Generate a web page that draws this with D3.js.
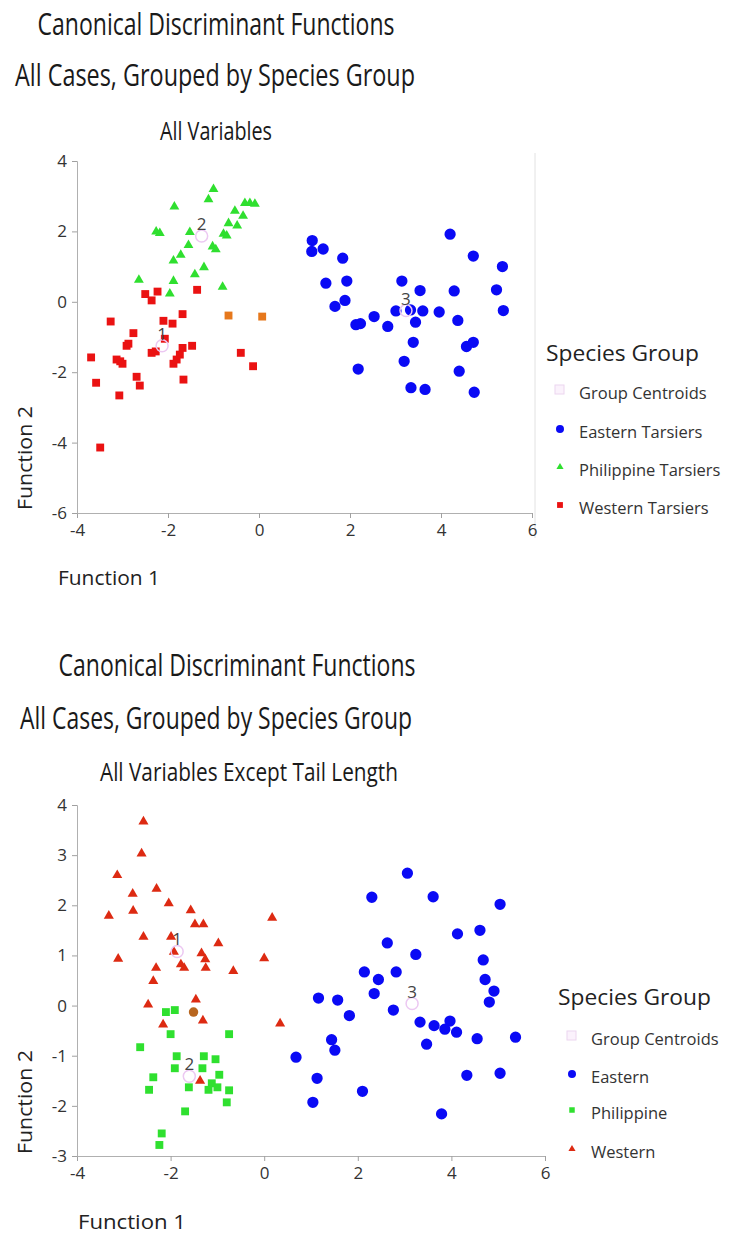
<!DOCTYPE html>
<html>
<head>
<meta charset="utf-8">
<script src="https://cdn.jsdelivr.net/npm/d3@7"></script>
<style>
body { margin: 0; background: #fff; }
text { font-family: "Open Sans", "DejaVu Sans", sans-serif; }
</style>
</head>
<body>
<script>
// ---- data ----
var xTicks = [-4, -2, 0, 2, 4, 6];
var topYTicks = [4, 2, 0, -2, -4, -6];
var botYTicks = [4, 3, 2, 1, 0, -1, -2, -3];

var topTitles = ["Canonical Discriminant Functions", "All Cases, Grouped by Species Group", "All Variables"];
var botTitles = ["Canonical Discriminant Functions", "All Cases, Grouped by Species Group", "All Variables Except Tail Length"];
var topLegend = ["Group Centroids", "Eastern Tarsiers", "Philippine Tarsiers", "Western Tarsiers"];
var botLegend = ["Group Centroids", "Eastern", "Philippine", "Western"];
var centroidIds = ["1", "2", "3"];

var topEastern = [[1.17,1.74],[1.16,1.43],[1.41,1.50],[1.84,1.24],[4.20,1.92],[4.71,1.30],[5.35,1.00],
	[1.47,0.53],[1.93,0.59],[3.14,0.59],[3.54,0.32],[4.29,0.31],[5.22,0.34],[1.89,0.04],[1.67,-0.13],
	[5.37,-0.25],[3.01,-0.26],[3.33,-0.23],[3.60,-0.26],[3.96,-0.29],[2.53,-0.42],[3.44,-0.58],[4.37,-0.53],
	[2.13,-0.65],[2.23,-0.62],[2.83,-0.70],[3.39,-1.15],[4.56,-1.27],[4.71,-1.15],[3.19,-1.69],[2.18,-1.91],
	[4.40,-1.97],[3.34,-2.44],[3.65,-2.49],[4.73,-2.57]];
var topPhilippine = [[-1.00,3.20],[-1.11,2.91],[-1.86,2.70],[-0.31,2.80],[-0.20,2.80],[-0.09,2.78],[-0.53,2.58],
	[-0.35,2.44],[-0.67,2.23],[-0.48,2.16],[-2.26,1.99],[-2.18,1.95],[-1.52,1.98],[-0.78,1.93],[-0.71,1.88],
	[-1.55,1.61],[-1.02,1.57],[-0.95,1.49],[-1.72,1.33],[-1.88,1.17],[-1.21,0.98],[-1.41,0.78],[-2.64,0.62],
	[-1.88,0.59],[-0.80,0.42],[-1.96,0.23]];
var topWestern = [[-2.50,0.22],[-2.23,0.29],[-2.36,0.04],[-1.36,0.34],[-1.68,-0.35],[-3.26,-0.56],[-2.10,-0.54],
	[-1.90,-0.62],[-2.76,-0.89],[-2.07,-1.05],[-2.91,-1.25],[-2.87,-1.19],[-3.69,-1.58],[-3.13,-1.64],[-3.05,-1.69],
	[-3.00,-1.76],[-2.36,-1.45],[-2.27,-1.41],[-1.88,-1.76],[-1.81,-1.64],[-1.74,-1.50],[-1.68,-1.31],[-1.47,-1.25],
	[-0.40,-1.45],[-0.13,-1.83],[-3.58,-2.30],[-2.69,-2.13],[-2.62,-2.38],[-1.66,-2.21],[-3.07,-2.66],[-3.49,-4.14]];
var topOverlap = [[-0.67,-0.39],[0.07,-0.42]];
var topCentroids = [[-2.13,-1.25],[-1.26,1.87],[3.23,-0.25]];

var botEastern = [[3.06,2.64],[2.30,2.16],[3.61,2.17],[5.04,2.02],[4.13,1.43],[4.61,1.50],[2.63,1.25],[3.24,1.02],
	[4.68,0.91],[2.14,0.67],[2.82,0.67],[2.44,0.52],[4.72,0.52],[4.91,0.29],[4.81,0.07],[2.35,0.24],[1.16,0.15],
	[1.57,0.11],[1.82,-0.20],[2.76,-0.09],[3.33,-0.33],[3.63,-0.40],[3.97,-0.31],[3.86,-0.47],[4.11,-0.53],
	[4.55,-0.66],[5.37,-0.63],[3.47,-0.77],[1.44,-0.68],[1.51,-0.89],[0.68,-1.03],[1.13,-1.45],[4.33,-1.39],
	[5.04,-1.35],[2.10,-1.71],[1.04,-1.93],[3.79,-2.16]];
var botPhilippine = [[-2.10,-0.13],[-1.91,-0.09],[-2.00,-0.57],[-0.75,-0.57],[-2.65,-0.83],[-1.87,-1.01],[-1.29,-1.01],
	[-1.04,-1.07],[-1.91,-1.25],[-1.32,-1.25],[-0.96,-1.38],[-2.37,-1.43],[-1.12,-1.55],[-1.19,-1.68],[-1.00,-1.63],
	[-1.61,-1.63],[-2.46,-1.68],[-0.75,-1.69],[-0.80,-1.93],[-1.69,-2.11],[-2.19,-2.55],[-2.24,-2.78]];
var botWestern = [[-2.58,3.67],[-2.62,3.03],[-3.14,2.60],[-2.30,2.33],[-2.81,2.23],[-2.04,2.04],[-2.80,1.89],
	[-1.57,1.90],[-3.32,1.79],[0.17,1.75],[-1.48,1.62],[-1.30,1.62],[-2.58,1.37],[-1.99,1.37],[-0.98,1.24],
	[-1.93,1.07],[-1.34,1.04],[-3.12,0.93],[0.00,0.94],[-1.26,0.92],[-1.78,0.82],[-1.71,0.75],[-2.31,0.75],
	[-1.25,0.75],[-0.66,0.69],[-2.37,0.49],[-2.48,0.02],[-1.46,0.12],[-1.31,-0.30],[-2.16,-0.38],[0.34,-0.36],
	[-1.37,-1.50]];
var botOverlap = [[-1.51,-0.13]];
var botCentroids = [[-1.86,1.08],[-1.60,-1.41],[3.16,0.04]];

var svg = d3.select("body").append("svg")
	.attr("width", 736)
	.attr("height", 1237);

function fitText(g, str, x, y, size, len, anchor, color){
	return g.append("text")
		.attr("x", x).attr("y", y)
		.attr("font-size", size)
		.attr("text-anchor", anchor || "start")
		.attr("fill", color || "#222")
		.attr("textLength", len)
		.attr("lengthAdjust", "spacingAndGlyphs")
		.text(str);
}

function drawPanel(c){
	var g = svg.append("g");
	var x = d3.scaleLinear().domain([-4, 6]).range(c.xr);
	var y = d3.scaleLinear().domain(c.yd).range(c.yr);
	var plain = function(d){ return String(d); };

	// titles
	c.titles.forEach(function(t, i){
		fitText(g, t, c.titleX[i], c.titleY[i], i < 2 ? 31 : 25, c.titleW[i], "middle", "#1a1a1a");
	});

	if(c.rightLine){
		g.append("line")
			.attr("x1", c.rightLine).attr("x2", c.rightLine)
			.attr("y1", c.yr[1] - 8).attr("y2", c.yr[0] + 25)
			.attr("stroke", "#e2e2e2");
	}

	var ax = g.append("g")
		.attr("transform", "translate(0," + c.yr[0] + ")")
		.call(d3.axisBottom(x).tickValues(xTicks).tickFormat(plain).tickSizeOuter(0).tickSize(5).tickPadding(6));
	var ay = g.append("g")
		.attr("transform", "translate(" + c.xr[0] + ",0)")
		.call(d3.axisLeft(y).tickValues(c.yTicks).tickFormat(plain).tickSizeOuter(0).tickSize(5).tickPadding(5));
	[ax, ay].forEach(function(a){
		a.select(".domain").attr("stroke", "#b0b0b0");
		a.selectAll(".tick line").attr("stroke", "#a0a0a0");
		a.selectAll(".tick text")
			.attr("font-family", "Open Sans, sans-serif")
			.attr("font-size", 17)
			.attr("fill", "#333");
	});

	fitText(g, "Function 1", c.f1[0], c.f1[1], 20, c.f1[2], "start", "#222");
	fitText(g, "Function 2", 0, 0, 20, 104, "middle", "#222")
		.attr("transform", "translate(" + c.f2[0] + "," + c.f2[1] + ") rotate(-90)");

	// points
	function plot(data, type, size, fill){
		g.append("g").selectAll("path")
			.data(data)
			.enter()
			.append("path")
			.attr("transform", function(d){ return "translate(" + x(d[0]) + "," + y(d[1]) + ")"; })
			.attr("d", d3.symbol().type(type).size(size))
			.attr("fill", fill);
	}
	c.series.forEach(function(s){ plot(s.data, s.type, s.size, s.color); });

	// centroids
	var cg = g.append("g").selectAll("g")
		.data(c.centroids)
		.enter()
		.append("g")
		.attr("transform", function(d){ return "translate(" + x(d[0]) + "," + y(d[1]) + ")"; });
	cg.append("circle").attr("r", 6).attr("fill", "none").attr("stroke", "#ecc8f2").attr("stroke-width", 1.5);
	cg.append("text")
		.attr("y", -6)
		.attr("text-anchor", "middle")
		.attr("font-size", 17)
		.attr("fill", "#444")
		.text(function(d, i){ return centroidIds[i]; });

	// legend
	var lg = g.append("g");
	fitText(lg, "Species Group", c.leg.x, c.leg.titleY, 21, 153, "start", "#222");
	c.leg.labels.forEach(function(l, i){
		var yy = c.leg.itemY[i];
		lg.append("text")
			.attr("x", c.leg.x + 33).attr("y", yy)
			.attr("font-size", 16.5)
			.attr("fill", "#333")
			.text(l);
		if(i === 0){
			lg.append("rect")
				.attr("x", c.leg.x + 9).attr("y", yy - 14)
				.attr("width", 9).attr("height", 9)
				.attr("fill", "#fbf2fc").attr("stroke", "#ecd6ef");
		} else {
			var s = c.series[i - 1];
			lg.append("path")
				.attr("transform", "translate(" + (c.leg.x + 14) + "," + (yy - 9) + ")")
				.attr("d", d3.symbol().type(s.type).size(s.legSize))
				.attr("fill", s.color);
		}
	});
}

drawPanel({
	xr: [77, 532], yd: [-6, 4], yr: [513, 161], yTicks: topYTicks,
	titles: topTitles, titleX: [216, 215, 216], titleY: [35, 86, 140], titleW: [357, 400, 112],
	rightLine: 535,
	f1: [58, 585, 102], f2: [32, 458],
	series: [
		{data: topEastern, type: d3.symbolCircle, size: 100, legSize: 50, color: "#0a0af5"},
		{data: topPhilippine, type: d3.symbolTriangle, size: 42, legSize: 22, color: "#2fdf2f"},
		{data: topWestern, type: d3.symbolSquare, size: 62, legSize: 34, color: "#ea1212"},
		{data: topOverlap, type: d3.symbolSquare, size: 62, legSize: 0, color: "#e6781c"}
	],
	centroids: topCentroids,
	leg: {x: 546, titleY: 361, labels: topLegend, itemY: [399, 438, 476, 514]}
});

drawPanel({
	xr: [77, 545], yd: [-3, 4], yr: [1156, 805], yTicks: botYTicks,
	titles: botTitles, titleX: [237, 216, 249], titleY: [676, 729, 781], titleW: [357, 392, 298],
	rightLine: 0,
	f1: [78, 1229, 108], f2: [32, 1102],
	series: [
		{data: botEastern, type: d3.symbolCircle, size: 100, legSize: 50, color: "#0a0af5"},
		{data: botPhilippine, type: d3.symbolSquare, size: 62, legSize: 30, color: "#2fe02f"},
		{data: botWestern, type: d3.symbolTriangle, size: 44, legSize: 22, color: "#dd2a12"},
		{data: botOverlap, type: d3.symbolCircle, size: 70, legSize: 0, color: "#b8661f"}
	],
	centroids: botCentroids,
	leg: {x: 558, titleY: 1005, labels: botLegend, itemY: [1045, 1083, 1119, 1158]}
});
</script>
</body>
</html>
